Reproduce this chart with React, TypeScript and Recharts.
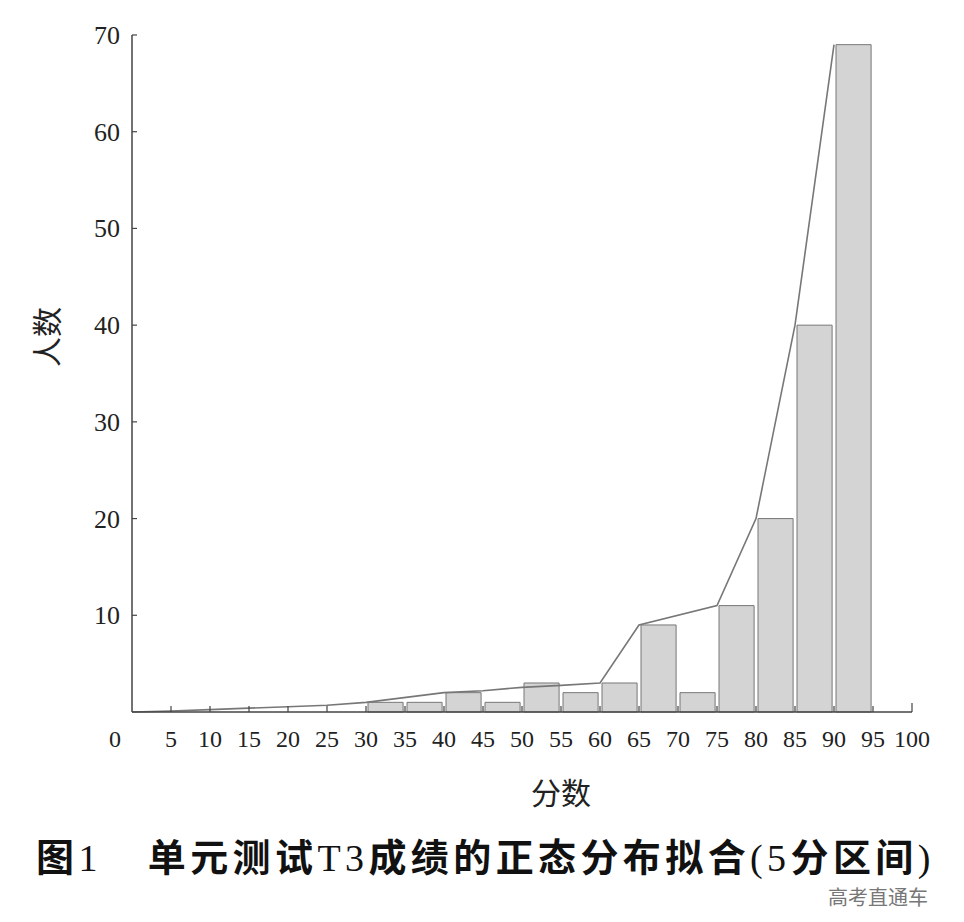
import { ComposedChart, Bar, Line, XAxis, YAxis } from 'recharts';

// 5-point score bins (start of each interval) and student counts
const binStarts = [30, 35, 40, 45, 50, 55, 60, 65, 70, 75, 80, 85, 90];
const binCounts = [1, 1, 2, 1, 3, 2, 3, 9, 2, 11, 20, 40, 69];

// fitted curve
const fitScores = [0, 5, 10, 15, 20, 25, 30, 40, 45, 50, 55, 60, 65, 75, 80, 85, 90];
const fitCounts = [0, 0.1, 0.25, 0.4, 0.55, 0.7, 1, 2, 2.2, 2.55, 2.75, 3, 9, 11, 20, 40, 69];

const xTicks = [0, 5, 10, 15, 20, 25, 30, 35, 40, 45, 50, 55, 60, 65, 70, 75, 80, 85, 90, 95, 100];
const yTicks = [10, 20, 30, 40, 50, 60, 70];

const barData = binStarts.map((s, i) => ({ x: s + 2.5, count: binCounts[i] }));
const fitData = fitScores.map((s, i) => ({ x: s, fit: fitCounts[i] }));

const serif = '"Liberation Serif", "DejaVu Serif", serif';
const cjk = '"Noto Sans CJK SC", sans-serif';

const XTick = (props: any) => {
  const { x, y, payload } = props;
  const v = payload.value;
  return (
    <g>
      {v !== 0 && <line x1={x} x2={x} y1={y} y2={v === 100 ? y - 9 : y - 6} stroke="#444" strokeWidth={1.2} />}
      <text x={v === 0 ? x - 17 : x} y={y + 35} textAnchor="middle" fontFamily={serif} fontSize={24} fill="#222">
        {v}
      </text>
    </g>
  );
};

const YTick = (props: any) => {
  const { x, y, payload } = props;
  return (
    <g>
      <line x1={x} x2={x + 5} y1={y} y2={y} stroke="#444" strokeWidth={1.2} />
      <text x={x - 12} y={y + 9} textAnchor="end" fontFamily={serif} fontSize={26} fill="#222">
        {payload.value}
      </text>
    </g>
  );
};

const asc = { fontFamily: serif, fontWeight: 400, lineHeight: 1 };

export default function App() {
  return (
    <div style={{ position: 'absolute', left: 0, top: 0, width: 964, height: 922, background: '#fff' }}>
      <ComposedChart
        width={964}
        height={820}
        data={barData}
        barCategoryGap={0}
        barGap={0}
        margin={{ top: 35, right: 52, bottom: 20, left: 0 }}
      >
        <XAxis
          dataKey="x"
          type="number"
          domain={[0, 100]}
          ticks={xTicks}
          interval={0}
          tickSize={0}
          tickMargin={0}
          tick={<XTick />}
          height={88}
          stroke="#444"
          strokeWidth={1.5}
          label={{
            content: (p: any) => (
              <text x={p.viewBox.x + 429} y={p.viewBox.y + 92} textAnchor="middle" fontFamily={cjk} fontSize={30} fill="#222">
                分数
              </text>
            ),
          }}
        />
        <XAxis xAxisId="fit" dataKey="x" type="number" domain={[0, 100]} hide />
        <YAxis
          type="number"
          domain={[0, 70]}
          ticks={yTicks}
          interval={0}
          tickSize={0}
          tickMargin={0}
          tick={<YTick />}
          width={132}
          stroke="#444"
          strokeWidth={1.5}
          label={{
            content: () => (
              <text x={45} y={337} textAnchor="middle" dominantBaseline="central" transform="rotate(-90 45 337)" fontFamily={cjk} fontSize={30} fill="#222">
                人数
              </text>
            ),
          }}
        />
        <Bar dataKey="count" barSize={39} fill="#d4d4d4" stroke="#777" strokeWidth={1} isAnimationActive={false} />
        <Line xAxisId="fit" data={fitData} dataKey="fit" type="linear" stroke="#777" strokeWidth={1.6} dot={false} activeDot={false} isAnimationActive={false} />
      </ComposedChart>
      <div
        style={{
          position: 'absolute',
          left: 36,
          top: 836,
          height: 40,
          fontFamily: cjk,
          fontWeight: 700,
          fontSize: 38,
          lineHeight: 1,
          color: '#111',
          whiteSpace: 'nowrap',
          letterSpacing: 4.4,
        }}
      >
        图<span style={asc}>1</span>
        <span style={{ display: 'inline-block', width: 46 }} />
        单元测试<span style={asc}>T3</span>成绩的正态分布拟合<span style={asc}>(5</span>分区间<span style={asc}>)</span>
      </div>
      <div style={{ position: 'absolute', left: 828, top: 887, fontFamily: cjk, fontSize: 20, lineHeight: 1, color: '#777', whiteSpace: 'nowrap' }}>
        高考直通车
      </div>
    </div>
  );
}
